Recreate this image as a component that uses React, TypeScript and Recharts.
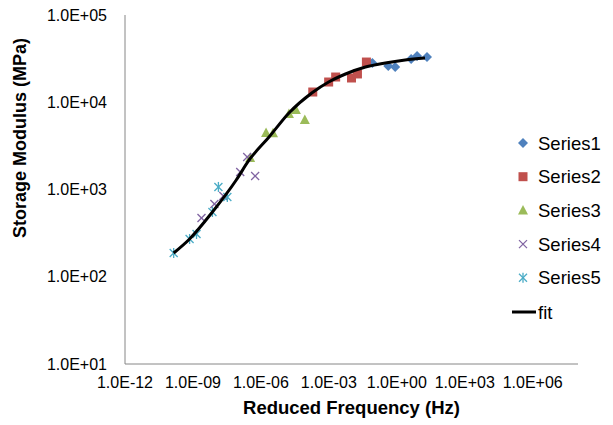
import { ScatterChart, Scatter, XAxis, YAxis, Label } from 'recharts';

// values (frequency in Hz, modulus in MPa)
const series1Freq = [0.0834, 0.42, 0.85, 4.29, 7.85, 21.5];
const series1Mod = [28200, 26000, 25400, 31300, 33900, 33000];
const series2Freq = [1.95e-4, 9.8e-4, 2.0e-3, 1.0e-2, 1.83e-2, 4.55e-2];
const series2Mod = [13100, 17060, 19460, 18970, 21100, 28900];
const series3Freq = [3.36e-7, 1.69e-6, 3.43e-6, 1.73e-5, 3.5e-5, 8.69e-5];
const series3Mod = [2300, 4450, 4400, 7330, 8150, 6270];
const series4Freq = [2.38e-9, 8.85e-9, 2.2e-8, 1.22e-7, 2.48e-7, 5.57e-7];
const series4Mod = [471, 682, 844, 1590, 2360, 1430];
const series5Freq = [1.41e-10, 7.1e-10, 1.44e-9, 7.24e-9, 1.33e-8, 3.3e-8];
const series5Mod = [187, 271, 309, 552, 1070, 820];
const fitFreq = [1.41e-10, 7.1e-10, 7.24e-9, 8.17e-8, 3.03e-7, 2.29e-6, 1.73e-5, 1.76e-4, 9.8e-4, 5.46e-3, 4.11e-2, 0.31, 2.33, 17.6];
const fitMod = [187, 271, 552, 1285, 2180, 4000, 7540, 12770, 17060, 21080, 25350, 28200, 30500, 32140];

const xTicks = [1e-12, 1e-9, 1e-6, 1e-3, 1, 1e3, 1e6];
const yTicks = [1e1, 1e2, 1e3, 1e4, 1e5];

const toPoints = (xs: number[], ys: number[]) => xs.map((x, i) => ({ x, y: ys[i] }));

const fmt = (v: number) => {
  const e = Math.round(Math.log10(v));
  return `1.0E${e < 0 ? '-' : '+'}${String(Math.abs(e)).padStart(2, '0')}`;
};

const COLORS = ['#4F81BD', '#C0504D', '#9BBB59', '#8064A2', '#4BACC6'];
const FONT = 'Arial, "Liberation Sans", sans-serif';

function Marker({ kind, cx, cy }: { kind: number; cx: number; cy: number }) {
  const c = COLORS[kind];
  switch (kind) {
    case 0:
      return <polygon points={`${cx},${cy - 5} ${cx + 5},${cy} ${cx},${cy + 5} ${cx - 5},${cy}`} fill={c} />;
    case 1:
      return <rect x={cx - 4.5} y={cy - 4.5} width={9} height={9} fill={c} />;
    case 2:
      return <polygon points={`${cx},${cy - 5.5} ${cx + 5},${cy + 4} ${cx - 5},${cy + 4}`} fill={c} />;
    case 3:
      return (
        <g stroke={c} strokeWidth={1.3}>
          <line x1={cx - 4} y1={cy - 4} x2={cx + 4} y2={cy + 4} />
          <line x1={cx - 4} y1={cy + 4} x2={cx + 4} y2={cy - 4} />
        </g>
      );
    default:
      return (
        <g stroke={c} strokeWidth={1.3}>
          <line x1={cx - 4} y1={cy - 4} x2={cx + 4} y2={cy + 4} />
          <line x1={cx - 4} y1={cy + 4} x2={cx + 4} y2={cy - 4} />
          <line x1={cx} y1={cy - 5} x2={cx} y2={cy + 5} />
        </g>
      );
  }
}

const legendNames = ['Series1', 'Series2', 'Series3', 'Series4', 'Series5'];

function LegendBox() {
  return (
    <svg width={100} height={210} style={{ fontFamily: FONT, position: 'absolute', left: 505, top: 125 }}>
      {legendNames.map((n, i) => (
        <g key={n}>
          <Marker kind={i} cx={18} cy={18 + i * 33.7} />
          <text x={33} y={18 + i * 33.7} dy="0.36em" fontSize={18.5} fill="#000">
            {n}
          </text>
        </g>
      ))}
      <line x1={7} y1={187} x2={31} y2={187} stroke="#000" strokeWidth={3} />
      <text x={33} y={187} dy="0.36em" fontSize={18.5} fill="#000">
        fit
      </text>
    </svg>
  );
}

export default function App() {
  const groups = [
    toPoints(series1Freq, series1Mod),
    toPoints(series2Freq, series2Mod),
    toPoints(series3Freq, series3Mod),
    toPoints(series4Freq, series4Mod),
    toPoints(series5Freq, series5Mod),
  ];
  const fit = toPoints(fitFreq, fitMod);

  return (
    <div style={{ position: 'absolute', left: 0, top: 0, width: 613, height: 425, background: '#fff' }}>
      <ScatterChart width={613} height={425} margin={{ top: 15, right: 35, left: 0, bottom: 0 }}>
        <XAxis
          type="number"
          dataKey="x"
          scale="log"
          domain={[1e-12, 1e8]}
          allowDataOverflow
          ticks={xTicks}
          tickFormatter={fmt}
          tickLine={false}
          tickSize={0}
          tickMargin={13}
          height={61}
          stroke="#868686"
          tick={{ fill: '#000', fontSize: 16, fontFamily: FONT }}
        >
          <Label
            value="Reduced Frequency (Hz)"
            position="insideBottom"
            offset={11}
            style={{ fontSize: 18.5, fontWeight: 'bold', fontFamily: FONT, fill: '#000' }}
          />
        </XAxis>
        <YAxis
          type="number"
          dataKey="y"
          scale="log"
          domain={[1e1, 1e5]}
          allowDataOverflow
          ticks={yTicks}
          tickFormatter={fmt}
          tickLine={false}
          tickSize={0}
          tickMargin={18}
          width={125}
          stroke="#868686"
          tick={{ fill: '#000', fontSize: 16, fontFamily: FONT }}
        >
          <Label
            content={() => (
              <text
                x={20}
                y={138}
                transform="rotate(-90 20 138)"
                textAnchor="middle"
                dominantBaseline="central"
                fontSize={18}
                fontWeight="bold"
                fontFamily={FONT}
                fill="#000"
              >
                Storage Modulus (MPa)
              </text>
            )}
          />
        </YAxis>
        {groups.map((g, i) => (
          <Scatter
            key={i}
            name={legendNames[i]}
            data={g}
            isAnimationActive={false}
            shape={(p: any) => <Marker kind={i} cx={p.cx} cy={p.cy} />}
          />
        ))}
        <Scatter
          name="fit"
          data={fit}
          isAnimationActive={false}
          line={{ stroke: '#000', strokeWidth: 3 }}
          lineJointType="monotoneX"
          shape={() => <g />}
        />
      </ScatterChart>
      <LegendBox />
    </div>
  );
}
